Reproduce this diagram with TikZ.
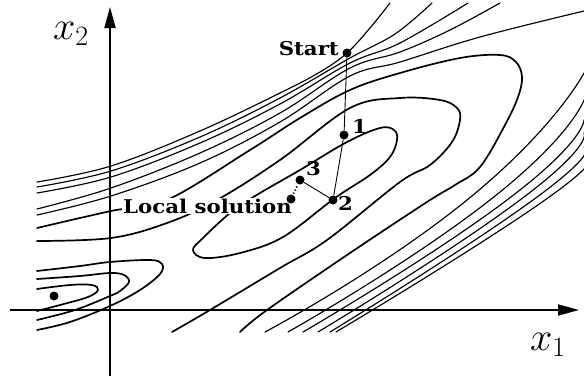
\RequirePackage{fix-cm}
\documentclass[tikz,border=0pt]{standalone}
\usepackage{fontspec}
\setmainfont{DejaVu Serif}
\usetikzlibrary{arrows.meta}
\newcommand{\wid}[1]{\scalebox{1.12}[1]{#1}}
\begin{document}
\begin{tikzpicture}[x=1pt,y=-1pt,
  contour/.style={line width=1.15pt, line join=round, line cap=round},
  cbold/.style={line width=1.7pt, line join=round, line cap=round},
  axisline/.style={line width=1.8pt, -{Triangle[length=21pt,width=11pt]}},
  dot/.style={circle, fill=black, inner sep=0pt, minimum size=9pt},
  lbl/.style={font=\fontsize{19}{19}\selectfont\bfseries, inner sep=0pt},
  axlbl/.style={font=\fontsize{40}{40}\selectfont, inner sep=0pt},
  pathline/.style={line width=0.9pt}]
\useasboundingbox (0,0) rectangle (584,378);
% upper bundle
\draw[contour] plot[smooth, tension=0.6] coordinates {(37,182) (111,166) (200,131) (280,93) (320,72) (347,53) (370,28) (390,3)};
\draw[contour] plot[smooth, tension=0.6] coordinates {(37,187) (111,171) (200,137) (280,98) (350,58) (395,34) (432,3)};
\draw[contour] plot[smooth, tension=0.6] coordinates {(37,193) (111,177) (200,143) (280,104) (350,63) (400,43) (468,3)};
\draw[contour] plot[smooth, tension=0.6] coordinates {(37,209) (111,188) (200,153) (280,113) (350,68) (400,52) (450,30) (500,3)};
\draw[contour] plot[smooth, tension=0.6] coordinates {(37,215) (111,196) (200,163) (280,122) (350,76) (400,62) (480,37) (584,11)};
% nested U contours
\draw[cbold] plot[smooth, tension=0.6] coordinates {(37,228) (111,211) (167,200) (250,150) (300,118) (350,90) (400,73) (460,58) (500,55) (516,62) (522,77) (518,97) (505,125) (480,167) (455,185) (427,202) (350,253) (267,310) (240,332)};
\draw[cbold] plot[smooth, tension=0.6] coordinates {(37,241) (111,238) (167,223) (217,200) (280,160) (350,108) (400,98) (440,100) (457,108) (460,120) (452,142) (430,165) (400,182) (327,240) (280,268) (210,310) (172,332)};
\draw[cbold] plot[smooth cycle, tension=0.6] coordinates {(193,250) (203,238) (230,213) (255,196) (300,170) (347,142) (380,128) (394,130) (397,140) (390,157) (370,175) (335,198) (283,237) (240,253) (205,258)};
% right lines
\draw[contour] plot[smooth, tension=1] coordinates {(584,73) (467,200) (265,332)};
\draw[contour] plot[smooth, tension=1] coordinates {(584,100) (490,200) (288,332)};
\draw[contour] plot[smooth, tension=1] coordinates {(584,120) (507,200) (303,332)};
\draw[contour] plot[smooth, tension=1] coordinates {(584,133) (520,200) (318,332)};
\draw[contour] plot[smooth, tension=1] coordinates {(584,147) (533,200) (330,332)};
\draw[contour] plot[smooth, tension=1] coordinates {(584,157) (545,200) (336,332)};
% left lobe
\draw[cbold] plot[smooth, tension=0.6] coordinates {(37,271) (80,266) (110,262) (150,260) (162,264) (160,274) (140,290) (110,306) (70,322) (37,330)};
\draw[cbold] plot[smooth, tension=0.6] coordinates {(37,279) (80,276) (110,273) (124,275) (129,282) (120,291) (110,296) (75,310) (37,320)};
\draw[cbold] plot[smooth, tension=0.6] coordinates {(37,289) (70,285) (92,285) (98,290) (88,297) (60,305) (37,311)};
% axes
\coordinate (yb) at (110,376);
\coordinate (yt) at (110,7);
\coordinate (xl) at (10,310);
\coordinate (xr) at (579,310);
\draw[axisline] (yb) -- (yt);
\draw[axisline] (xl) -- (xr);
\node[axlbl, anchor=base west] (xtwo) at (53,39) {$x_2$};
\node[axlbl, anchor=base west] (xone) at (530,350) {$x_1$};
% labels
\node[lbl, anchor=base east] (tstart) at (339,55) {\wid{Start}};
\node[lbl, anchor=base west, fill=white, inner sep=1pt] (tlocal) at (122,213) {\wid{Local solution}};
\node[lbl, anchor=base west] (tone) at (352,133) {\wid{1}};
\node[lbl, anchor=base west] (ttwo) at (338,210) {\wid{2}};
\node[lbl, anchor=base west] (tthree) at (306,175) {\wid{3}};
% points
\node[dot] (start) at (347,53) {};
\node[dot] (p1) at (344,135) {};
\node[dot] (p2) at (333,200) {};
\node[dot] (p3) at (300,180) {};
\node[dot] (loc) at (291,199) {};
\node[dot] (lmin) at (54,296) {};
\draw[pathline] (start) -- (p1);
\draw[pathline] (p1) -- (p2);
\draw[pathline] (p2) -- (p3);
\draw[line width=1.4pt, dotted, shorten <=1pt, shorten >=1pt] (loc) -- (p3);
\end{tikzpicture}
\end{document}
